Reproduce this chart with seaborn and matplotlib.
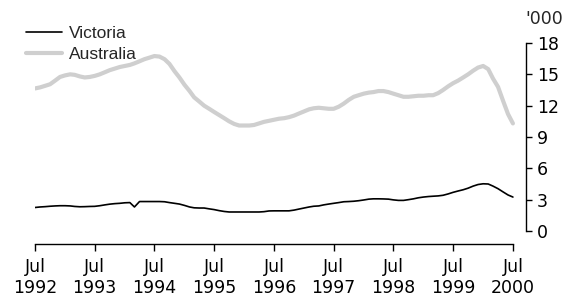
import datetime as dt
import pandas as pd
import matplotlib
matplotlib.use("Agg")
import matplotlib.pyplot as plt
import matplotlib.dates as mdates
import seaborn as sns

# monthly, Jul 1992 .. Jul 2000 ('000)
months = pd.date_range("1992-07-01", "2000-07-01", freq="MS")

australia = [
    13.65, 13.75, 13.9, 14.05, 14.4, 14.75, 14.9, 15.0, 14.95, 14.8, 14.7, 14.75,
    14.85, 15.0, 15.2, 15.4, 15.55, 15.7, 15.8, 15.9, 16.05, 16.25, 16.45, 16.6,
    16.75, 16.7, 16.45, 16.0, 15.3, 14.7, 14.0, 13.4, 12.8, 12.4, 12.0, 11.7,
    11.4, 11.1, 10.8, 10.5, 10.25, 10.1, 10.1, 10.1, 10.15, 10.3, 10.45, 10.55,
    10.65, 10.75, 10.8, 10.9, 11.05, 11.25, 11.45, 11.65, 11.75, 11.8, 11.75, 11.7,
    11.7, 11.9, 12.2, 12.55, 12.85, 13.0, 13.15, 13.25, 13.3, 13.4, 13.4, 13.3,
    13.15, 13.0, 12.85, 12.85, 12.9, 12.95, 12.95, 13.0, 13.0, 13.2, 13.5, 13.85,
    14.15, 14.4, 14.7, 15.0, 15.35, 15.65, 15.8, 15.5, 14.6, 13.8, 12.5, 11.2,
    10.3,
]

victoria = [
    2.25, 2.3, 2.33, 2.37, 2.4, 2.42, 2.42, 2.4, 2.35, 2.32, 2.33, 2.35,
    2.36, 2.42, 2.5, 2.57, 2.62, 2.65, 2.7, 2.72, 2.3, 2.82, 2.82, 2.82,
    2.82, 2.82, 2.8, 2.72, 2.65, 2.58, 2.45, 2.3, 2.22, 2.2, 2.2, 2.12,
    2.05, 1.95, 1.87, 1.82, 1.82, 1.82, 1.82, 1.82, 1.82, 1.82, 1.85, 1.92,
    1.93, 1.93, 1.93, 1.93, 2.0, 2.1, 2.2, 2.3, 2.37, 2.4, 2.5, 2.58,
    2.65, 2.72, 2.8, 2.82, 2.85, 2.9, 2.97, 3.05, 3.08, 3.08, 3.07, 3.05,
    2.98, 2.93, 2.93, 3.0, 3.08, 3.18, 3.25, 3.3, 3.33, 3.36, 3.42, 3.55,
    3.7, 3.83, 3.95, 4.1, 4.3, 4.45, 4.52, 4.5, 4.3, 4.05, 3.75, 3.45,
    3.25,
]

y_ticks = [0, 3, 6, 9, 12, 15, 18]
x_tick_years = list(range(1992, 2001))

df = pd.DataFrame({"date": months, "Victoria": victoria, "Australia": australia})

sns.set_style("white")
plt.rcParams["font.family"] = ["DejaVu Sans"]

fig = plt.figure(figsize=(5.62, 2.99), dpi=100)
ax = fig.add_axes([35 / 562, 55 / 299, (526 - 35) / 562, 201 / 299])

sns.lineplot(data=df, x="date", y="Australia", color="#cfcfcf", linewidth=3.0,
             label="Australia", ax=ax, zorder=2)
sns.lineplot(data=df, x="date", y="Victoria", color="black", linewidth=1.2,
             label="Victoria", ax=ax, zorder=3)

start = dt.datetime(1992, 7, 1)
end = dt.datetime(2000, 7, 1)
ax.set_xlim(start, end + dt.timedelta(days=80))
ax.set_ylim(-1.245, 18)

ax.yaxis.tick_right()
ax.set_yticks(y_ticks)
ax.set_xticks([dt.datetime(y, 7, 1) for y in x_tick_years])
ax.set_xticklabels([f"Jul\n{y}" for y in x_tick_years])
ax.set_xlabel("")
ax.set_ylabel("")

for s in ["left", "top"]:
    ax.spines[s].set_visible(False)
ax.spines["right"].set_bounds(0, 18)
ax.spines["bottom"].set_bounds(mdates.date2num(start), mdates.date2num(end))
for s in ["right", "bottom"]:
    ax.spines[s].set_color("black")
    ax.spines[s].set_linewidth(1.0)

ax.tick_params(axis="x", direction="out", length=5, width=1.0, pad=5,
               labelsize=12.5, colors="black", bottom=True)
ax.tick_params(axis="y", direction="out", length=4, width=1.0, pad=4,
               labelsize=12.5, colors="black", right=True, left=False)

fig.text(525 / 562, 1 - 19 / 299, "'000", fontsize=12.5, ha="left", va="center")

handles, labels = ax.get_legend_handles_labels()
order = [labels.index("Victoria"), labels.index("Australia")]
leg = ax.legend([handles[i] for i in order], [labels[i] for i in order],
                loc="upper left", bbox_to_anchor=(26 / 562, 1 - 26 / 299),
                bbox_transform=fig.transFigure, frameon=False,
                prop={"family": "Liberation Sans", "size": 12.5},
                handlelength=2.1, handletextpad=0.4, labelspacing=0.35,
                borderpad=0, borderaxespad=0)

fig.savefig("out.png", dpi=100)
